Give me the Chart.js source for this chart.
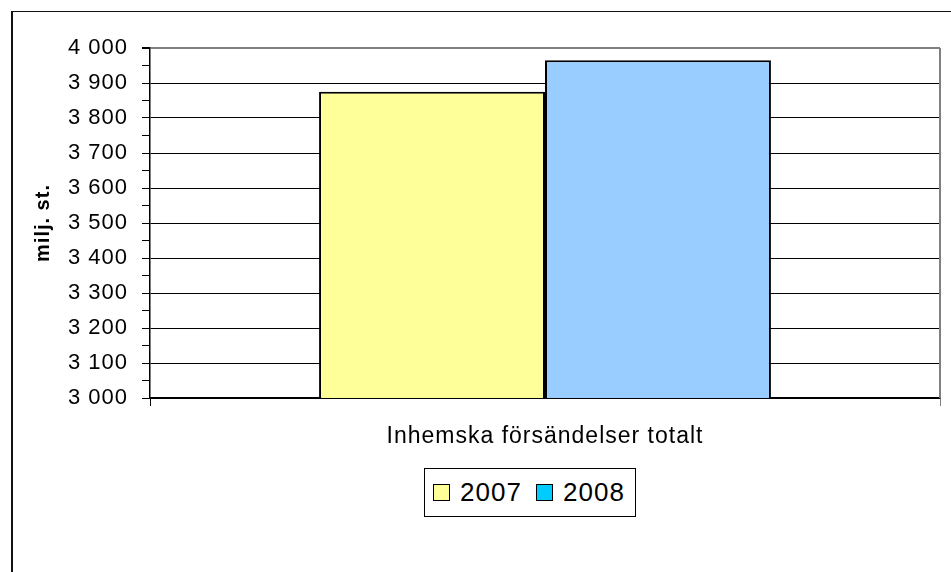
<!DOCTYPE html>
<html>
<head>
<meta charset="utf-8">
<script src="https://cdn.jsdelivr.net/npm/chart.js@4.4.1/dist/chart.umd.min.js"></script>
<style>
  html, body { margin: 0; padding: 0; background: #fff; overflow: hidden; }
  #wrap { position: relative; width: 951px; height: 572px; }
  #frame { position: absolute; left: 11px; top: 11px; width: 960px; height: 600px;
    border-left: 2px solid #111; border-top: 1px solid #111; }
  #chart { position: absolute; left: 0; top: 0; }
  #legend { position: absolute; left: 424px; top: 468px; width: 210px; height: 47px;
    border: 1px solid #000; background: #fff;
    font-family: "Liberation Sans", Arial, sans-serif; font-size: 26px; letter-spacing: 1px; color: #000; }
  .item { position: absolute; top: 9px; line-height: 30px; }
  .sw { position: absolute; top: 7px; width: 15px; height: 15px; border: 1px solid #000; }
</style>
</head>
<body>
<div id="wrap">
  <div id="frame"></div>
  <canvas id="chart" width="951" height="572"></canvas>
  <div id="legend"></div>
</div>
<script>
// data
const categories = ["Inhemska försändelser totalt"];
const years = ["2007", "2008"];
const values2007 = [3875];
const values2008 = [3965];
const barColors = ["#ffff99", "#99ccff"];
const legendColors = ["#ffff99", "#00ccff"];

function formatTick(v) {
  return v.toString().replace(/\B(?=(\d{3})+(?!\d))/g, " ");
}

// gray line on the right edge of the plot area
const plotFrame = {
  id: "plotFrame",
  beforeDraw(chart) {
    chart.ctx.letterSpacing = "1px";
  },
  beforeDatasetsDraw(chart) {
    const { ctx, chartArea } = chart;
    ctx.save();
    ctx.strokeStyle = "#808080";
    ctx.lineWidth = 2;
    ctx.beginPath();
    ctx.moveTo(chartArea.right, chartArea.top);
    ctx.lineTo(chartArea.right, chartArea.bottom);
    ctx.stroke();
    ctx.restore();
  },
};

Chart.defaults.font.family = '"Liberation Sans", Arial, sans-serif';
Chart.defaults.color = "#000";

new Chart(document.getElementById("chart").getContext("2d"), {
  type: "bar",
  data: {
    labels: categories,
    datasets: [
      { label: years[0], data: values2007, backgroundColor: barColors[0], borderColor: "#000", borderWidth: 2 },
      { label: years[1], data: values2008, backgroundColor: barColors[1], borderColor: "#000", borderWidth: 2 },
    ],
  },
  options: {
    responsive: false,
    animation: false,
    categoryPercentage: 0.572,
    barPercentage: 1,
    layout: { padding: { left: 0, top: 48, right: 11, bottom: 0 } },
    plugins: { legend: { display: false }, tooltip: { enabled: false } },
    scales: {
      x: {
        offset: true,
        grid: {
          display: true,
          drawOnChartArea: false,
          offset: true,
          tickLength: 8,
          tickColor: (c) => (c.index === 0 ? "#000" : "#808080"),
        },
        border: { color: "#000", width: 1.5 },
        ticks: { font: { size: 23 }, padding: 17 },
        afterFit: (s) => { s.height = 174; },
      },
      y: {
        min: 3000,
        max: 4000,
        ticks: {
          stepSize: 50,
          autoSkip: false,
          padding: 14,
          font: { size: 22 },
          callback: (v) => (v % 100 === 0 ? formatTick(v) : ""),
        },
        grid: {
          color: (c) => {
            if (!c.tick || c.tick.value % 100 !== 0) return "rgba(0,0,0,0)";
            return c.tick.value === 4000 ? "#808080" : "#000";
          },
          lineWidth: (c) => (c.tick && c.tick.value === 4000 ? 2 : 1),
          tickColor: "#000",
          tickLength: 8,
        },
        border: { color: "#000", width: 1.5 },
        title: {
          display: true,
          text: "milj. st.",
          font: { size: 20, weight: "bold" },
          padding: { top: 31, bottom: 0 },
        },
        afterFit: (s) => { s.width = 150; },
      },
    },
  },
  plugins: [plotFrame],
});

// legend with a box around it
const legend = document.getElementById("legend");
const itemX = [[8, 35], [111, 138]];
years.forEach((y, i) => {
  const sw = document.createElement("div");
  sw.className = "sw";
  sw.style.left = itemX[i][0] + "px";
  sw.style.top = "15px";
  sw.style.background = legendColors[i];
  legend.appendChild(sw);
  const t = document.createElement("div");
  t.className = "item";
  t.style.left = itemX[i][1] + "px";
  t.style.top = "8px";
  t.textContent = y;
  legend.appendChild(t);
});
</script>
</body>
</html>
